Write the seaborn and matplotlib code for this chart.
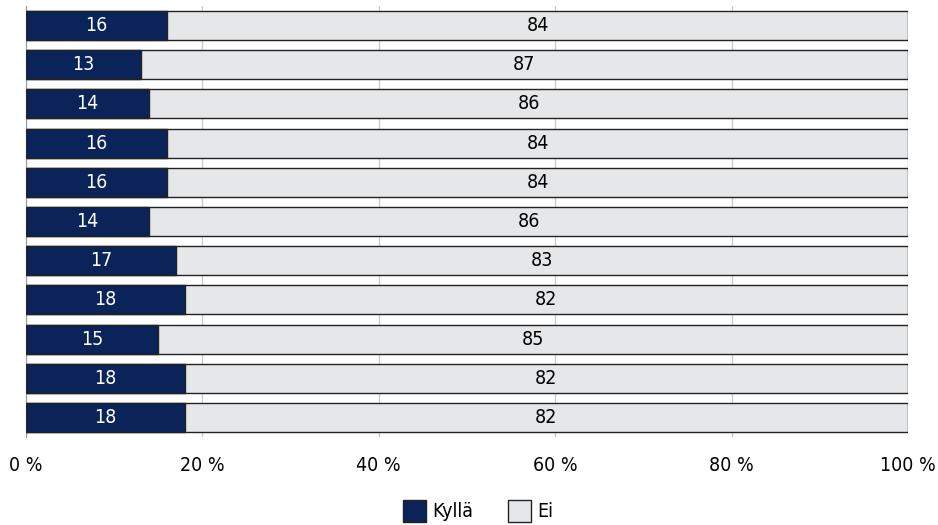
import numpy as np
import pandas as pd
import matplotlib
matplotlib.use("Agg")
import matplotlib.pyplot as plt
import seaborn as sns
from matplotlib.patches import Patch

# --- Dados ---
rivit = [f"r{i}" for i in range(11)]
kylla = [16, 13, 14, 16, 16, 14, 17, 18, 15, 18, 18]
ei = [84, 87, 86, 84, 84, 86, 83, 82, 85, 82, 82]
x_ticks = [0, 20, 40, 60, 80, 100]
x_labels = ["0 %", "20 %", "40 %", "60 %", "80 %", "100 %"]

df = pd.DataFrame({"rivi": rivit, "Kyllä": kylla, "Ei": ei})
df["yht"] = df["Kyllä"] + df["Ei"]

sns.set_style("white")
plt.rcParams["font.family"] = ["DejaVu Sans"]
plt.rcParams["font.stretch"] = "condensed"
plt.rcParams["text.color"] = "black"
plt.rcParams["xtick.color"] = "black"

navy = "#0a2358"
grey = "#e6e7e8"
edge = "#222222"

fig = plt.figure(figsize=(9.38, 5.25), dpi=100)
ax = fig.add_axes([0.0277, 0.1676, 0.9403, 0.8210])

# barra total (Ei) por baixo, Kyllä por cima
sns.barplot(data=df, y="rivi", x="yht", order=rivit, color=grey, orient="h",
            saturation=1, width=0.74, edgecolor=edge, linewidth=1.0, ax=ax, zorder=2)
sns.barplot(data=df, y="rivi", x="Kyllä", order=rivit, color=navy, orient="h",
            saturation=1, width=0.74, edgecolor=edge, linewidth=1.0, ax=ax, zorder=3)

for i, (k, e) in enumerate(zip(kylla, ei)):
    ax.text(k / 2, i, str(k), ha="center", va="center", color="white", fontsize=14, zorder=4)
    ax.text(k + e / 2, i, str(e), ha="center", va="center", color="black", fontsize=14, zorder=4)

ax.set_xlim(0, 100)
ax.set_ylim(10.5, -0.5)
ax.set_xticks(x_ticks)
ax.set_xticklabels(x_labels, fontsize=14, color="black")
ax.set_yticks([])
ax.set_yticks(np.arange(-0.5, 11, 1), minor=True)
ax.tick_params(axis="y", which="minor", length=9, color="#999999", width=1)
ax.tick_params(axis="x", length=6, color="#aaaaaa", width=1, pad=8)
ax.set_xlabel("")
ax.set_ylabel("")
ax.xaxis.grid(True, color="#cccccc", linewidth=1, zorder=0)
ax.set_axisbelow(True)
for s in ["top", "right", "bottom"]:
    ax.spines[s].set_visible(False)
ax.spines["left"].set_color("#999999")

handles = [Patch(facecolor=navy, edgecolor=edge, label="Kyllä"),
           Patch(facecolor=grey, edgecolor=edge, label="Ei")]
fig.legend(handles=handles, loc="center", bbox_to_anchor=(0.51, 0.027), ncol=2,
           frameon=False, fontsize=14, handlelength=1.15, handleheight=1.4,
           columnspacing=1.8, handletextpad=0.35)

fig.savefig("out.png", dpi=100)
